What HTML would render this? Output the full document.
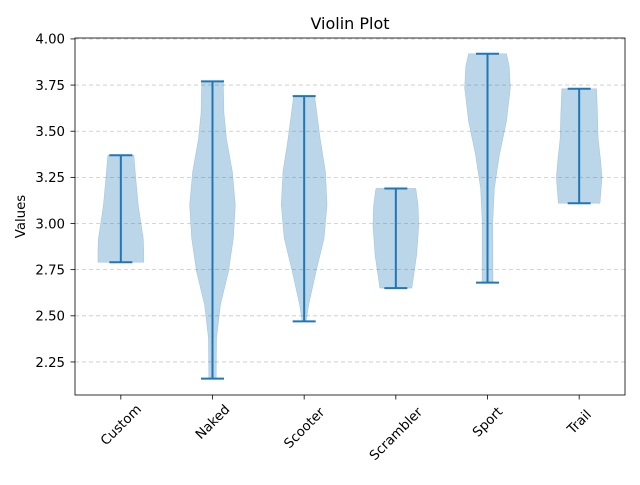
<!DOCTYPE html>
<html><head><meta charset="utf-8"><style>
body{margin:0;background:#fff;}
svg text{font-family:"DejaVu Sans","Liberation Sans",sans-serif;fill:#000;}
</style></head><body>
<svg id="chart" width="640" height="480" viewBox="0 0 640 480" xmlns="http://www.w3.org/2000/svg"></svg>
<script>
const categories = ["Custom","Naked","Scooter","Scrambler","Sport","Trail"];
const mins = [2.79, 2.16, 2.47, 2.65, 2.68, 3.11];
const maxs = [3.37, 3.77, 3.69, 3.19, 3.92, 3.73];
const densVals = [
  [2.79,2.85,2.92,3.0,3.10,3.25,3.37],
  [2.16,2.38,2.56,2.74,2.92,3.10,3.28,3.46,3.60,3.77],
  [2.47,2.56,2.74,2.92,3.10,3.28,3.46,3.69],
  [2.65,2.83,2.99,3.10,3.19],
  [2.68,3.01,3.19,3.37,3.555,3.735,3.85,3.92],
  [3.11,3.25,3.35,3.46,3.60,3.73]
];
const densities = [
  [1.0,1.0,0.98,0.88,0.76,0.65,0.57],
  [0.16,0.18,0.35,0.70,0.91,1.0,0.87,0.61,0.5,0.47],
  [0.09,0.2,0.52,0.87,1.0,0.93,0.70,0.46],
  [0.70,0.91,1.0,0.97,0.87],
  [0.24,0.23,0.30,0.52,0.83,1.0,0.95,0.83],
  [0.91,1.0,0.93,0.83,0.80,0.76]
];
const yTicks = [2.25,2.50,2.75,3.00,3.25,3.50,3.75,4.00];
const yTickLabels = ["2.25","2.50","2.75","3.00","3.25","3.50","3.75","4.00"];

const L=75,R=625,T=38,B=395;
const yMin=2.071,yMax=4.005;
const y=v=>B-(v-yMin)/(yMax-yMin)*(B-T);
const x=i=>L+(i+0.5)*(R-L)/categories.length;
const maxHW=0.25*(R-L)/categories.length;
const svg=document.getElementById('chart');
const NS="http://www.w3.org/2000/svg";
function mk(tag,attrs,parent){const e=document.createElementNS(NS,tag);for(const k in attrs)e.setAttribute(k,attrs[k]);(parent||svg).appendChild(e);return e;}

mk('rect',{x:0,y:0,width:640,height:480,fill:'#fff'});
yTicks.forEach((t,i)=>{
  const g=mk('line',{x1:L,x2:R,y1:y(t),y2:y(t),stroke:'#b0b0b0','stroke-width':0.8,'stroke-dasharray':'4,3','stroke-opacity':0.7});
  
  
  const tk=mk('line',{x1:L-4.5,x2:L,y1:y(t),y2:y(t),stroke:'#000','stroke-width':0.8});
  
  
  const tl=mk('text',{x:L-10,y:y(t)+4.8,'text-anchor':'end','font-size':13.3});
  tl.textContent=yTickLabels[i];
  
  
});
categories.forEach((c,i)=>{
  const cx=x(i),vs=densVals[i],ds=densities[i];
  let right=[],left=[];
  for(let k=0;k<vs.length;k++){const hw=ds[k]*maxHW;right.push([cx+hw,y(vs[k])]);left.push([cx-hw,y(vs[k])]);}
  const pts=right.concat(left.reverse()).map(p=>p[0].toFixed(1)+','+p[1].toFixed(1)).join(' ');
  const body=mk('polygon',{points:pts,fill:'#1f77b4','fill-opacity':0.3,stroke:'#1f77b4','stroke-opacity':0.3,'stroke-width':0.5});
  
  
  const v=mk('line',{x1:cx,x2:cx,y1:y(mins[i]),y2:y(maxs[i]),stroke:'#1f77b4','stroke-width':2});
  
  
  [mins[i],maxs[i]].forEach(val=>{
    const cap=mk('line',{x1:cx-11.5,x2:cx+11.5,y1:y(val),y2:y(val),stroke:'#1f77b4','stroke-width':2});
    
    
  });
  const tk=mk('line',{x1:cx,x2:cx,y1:B,y2:B+4.5,stroke:'#000','stroke-width':0.8});
  
  
  const w=c.length*4.2;
  const ax=cx, ay=B+12+w*0.707;
  const tl=mk('text',{x:ax,y:ay+4.5,'text-anchor':'middle','font-size':13.3,transform:`rotate(-45 ${ax} ${ay})`});
  tl.textContent=c;
  
  
});
const frame=mk('rect',{x:L,y:T,width:R-L,height:B-T,fill:'none',stroke:'#000','stroke-width':0.8});


const title=mk('text',{x:(L+R)/2,y:29,'text-anchor':'middle','font-size':16});
title.textContent='Violin Plot';


const yl=mk('text',{x:25,y:(T+B)/2,'text-anchor':'middle','font-size':13.3,transform:`rotate(-90 25 ${(T+B)/2})`});
yl.textContent='Values';


</script>
</body></html>
